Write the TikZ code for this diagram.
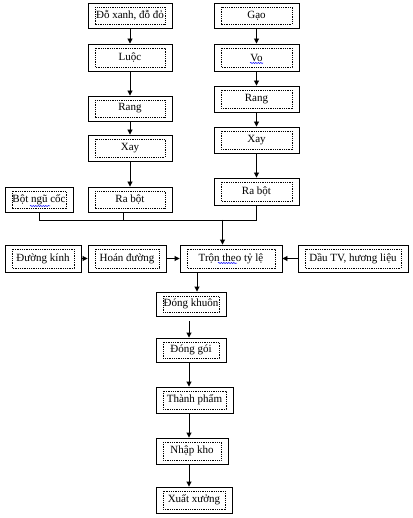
\documentclass[tikz,border=0pt]{standalone}
\usepackage{fontspec}
\setmainfont{Liberation Serif}
\usetikzlibrary{arrows.meta,decorations.pathmorphing}
\begin{document}
\begin{tikzpicture}[x=1pt,y=-1pt,
  box/.style={draw, line width=0.9pt, inner sep=0pt, font=\fontsize{11}{13}\selectfont,
    path picture={\draw[line width=0.8pt, dash pattern=on 0.9pt off 0.9pt]
      ([shift={(7pt,-4pt)}]path picture bounding box.north west) rectangle
      ([shift={(-7pt,4pt)}]path picture bounding box.south east);}},
  arr/.style={line width=0.9pt, -{Triangle[length=5pt,width=5pt]}},
  ln/.style={line width=0.9pt},
  wave/.style={draw=blue, line width=0.5pt, decorate, decoration={snake, amplitude=0.6pt, segment length=2.5pt}}]
\useasboundingbox (0,0) rectangle (412,518);
% left column
\node[box, minimum width=84pt, minimum height=25pt] (a1) at (130,15.5) {Đỗ xanh, đỗ đỏ};
\node[box, minimum width=84pt, minimum height=27pt] (a2) at (130,57.5) {Luộc};
\node[box, minimum width=84pt, minimum height=25pt] (a3) at (130,108.5) {Rang};
\node[box, minimum width=84pt, minimum height=26pt] (a4) at (130,148) {Xay};
\node[box, minimum width=84pt, minimum height=25pt] (a5) at (130,199.5) {Ra bột};
% right column
\node[box, minimum width=85pt, minimum height=25pt] (b1) at (256.5,15.5) {Gạo};
\node[box, minimum width=85pt, minimum height=27pt] (b2) at (256.5,57.5) {Vo};
\node[box, minimum width=85pt, minimum height=26pt] (b3) at (256.5,99) {Rang};
\node[box, minimum width=85pt, minimum height=26pt] (b4) at (256.5,140) {Xay};
\node[box, minimum width=85pt, minimum height=27pt] (b5) at (256.5,191.5) {Ra bột};
% cereal
\node[box, minimum width=68pt, minimum height=25pt] (c) at (39,199.5) {Bột ngũ cốc};
% mixing row
\node[box, minimum width=76pt, minimum height=27pt] (d1) at (43,258.5) {Đường kính};
\node[box, minimum width=78pt, minimum height=27pt] (d2) at (127,258.5) {Hoán đường};
\node[box, minimum width=102pt, minimum height=27pt] (t) at (231,258.5) {Trộn theo tỷ lệ};
\node[box, minimum width=110pt, minimum height=27pt] (d3) at (353,258.5) {Dầu TV, hương liệu};
% bottom column
\node[box, minimum width=70pt, minimum height=24pt] (e1) at (191,304) {Đóng khuôn};
\node[box, minimum width=70pt, minimum height=24pt] (e2) at (191,350) {Đóng gói};
\node[box, minimum width=77pt, minimum height=26pt] (e3) at (194.5,400) {Thành phẩm};
\node[box, minimum width=72pt, minimum height=26pt] (e4) at (192,451) {Nhập kho};
\node[box, minimum width=76pt, minimum height=26pt] (e5) at (194,500) {Xuất xưởng};
% spell-check wavy underlines
\draw[wave] (30,206) -- (50,206);
\draw[wave] (250,63) -- (263,63);
\draw[wave] (218,263) -- (237,263);
% helper coordinates
\coordinate (my) at (0,220);
\coordinate (lx) at (123,0);
\coordinate (tx) at (222.5,0);
\coordinate (ex) at (197,0);
\coordinate (cx) at (189,0);
% connectors
\draw[arr] (a1) -- (a2);
\draw[arr] (a2) -- (a3);
\draw[arr] (a3) -- (a4);
\draw[arr] (a4) -- (a5);
\draw[arr] (b1) -- (b2);
\draw[arr] (b2) -- (b3);
\draw[arr] (b3) -- (b4);
\draw[arr] (b4) -- (b5);
\draw[ln] (c.south) -- (c.south |- my) -- (b5.south |- my) -- (b5.south);
\draw[ln] (a5.south -| lx) -- (lx |- my);
\draw[arr] (tx |- my) -- (t.north -| tx);
\draw[arr] (d1) -- (d2);
\draw[arr] (d2) -- (t);
\draw[arr] (d3) -- (t);
\draw[arr] (t.south -| ex) -- (e1.north -| ex);
\draw[arr, shorten <=5pt] (e1.south -| cx) -- (e2.north -| cx);
\draw[arr] (e2.south -| cx) -- (e3.north -| cx);
\draw[arr] (e3.south -| cx) -- (e4.north -| cx);
\draw[arr] (e4.south -| cx) -- (e5.north -| cx);
\end{tikzpicture}
\end{document}
